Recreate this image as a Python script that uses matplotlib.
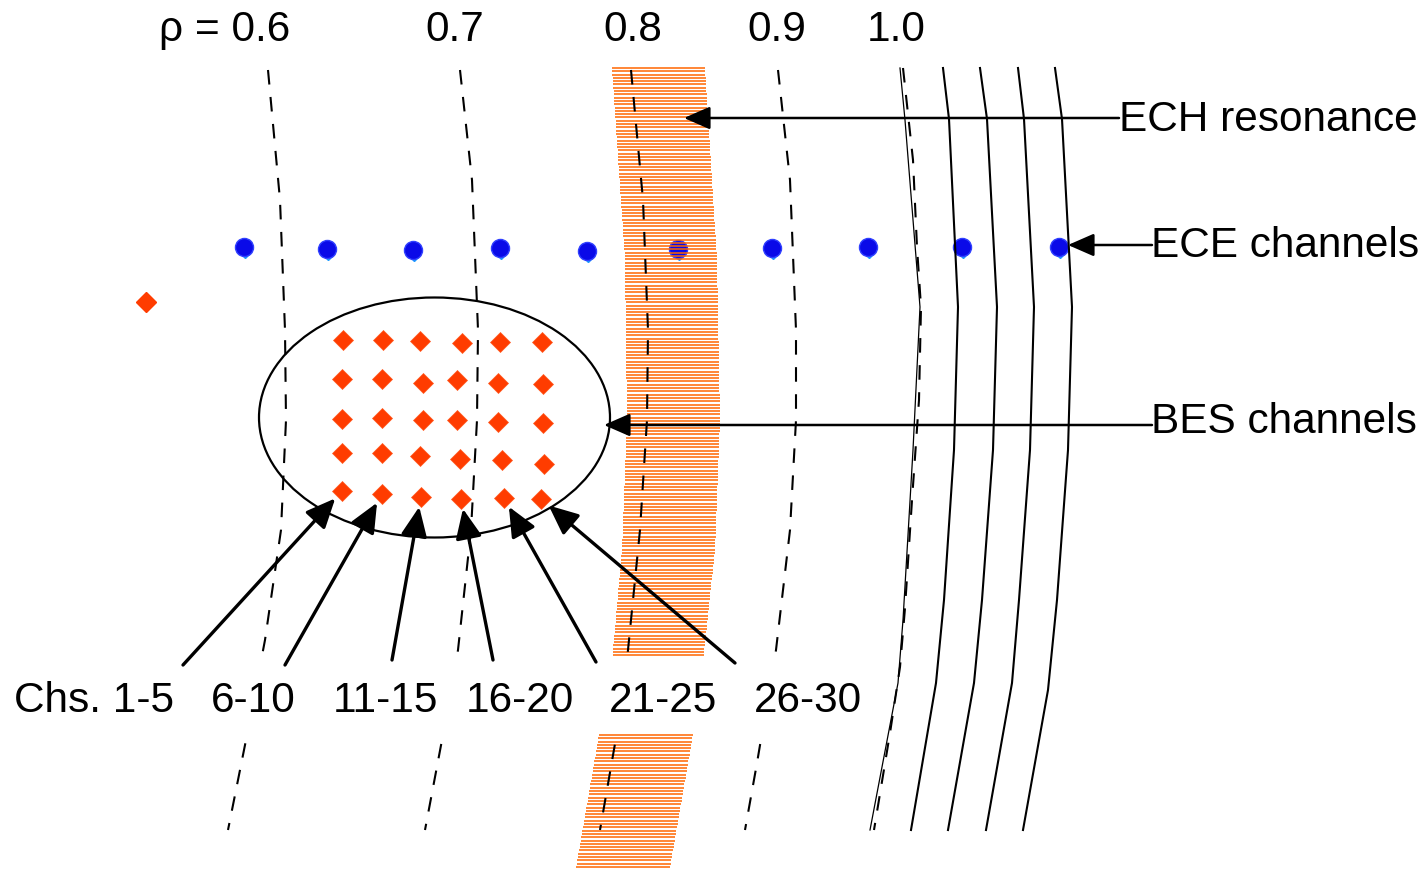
import numpy as np
import matplotlib
matplotlib.use("Agg")
import matplotlib.pyplot as plt
from matplotlib.patches import Ellipse, Rectangle

plt.rcParams['font.family'] = ['Liberation Sans', 'DejaVu Sans']

# flux surfaces (dashed), points along each curve in drawing units (x, y down)
rho_labels = ['ρ = 0.6', '0.7', '0.8', '0.9', '1.0']
rho_label_x = [225, 455, 633, 777, 896]
rho06 = [(268, 70), (280, 200), (285, 330), (286, 420), (281, 530), (265, 640), (246, 740), (228, 830)]
rho07 = [(460, 70), (472, 180), (478, 330), (477, 420), (471, 530), (458, 650), (442, 740), (425, 830)]
rho08 = [(631, 70), (643, 200), (648, 330), (647, 420), (640, 530), (628, 650), (616, 738), (600, 830)]
rho09 = [(778, 70), (790, 180), (796, 330), (796, 420), (790, 530), (776, 650), (757, 763), (745, 830)]
rho10 = [(903, 68), (913, 160), (917, 247), (921, 307), (919, 400), (912, 500), (905, 608),
         (900, 667), (890, 733), (874, 830)]

# outer surfaces (solid)
outer1 = [(900, 68), (905, 120), (920, 307), (913, 450), (903, 620), (898, 683), (870, 830)]
outer2 = [(943, 68), (949, 119), (958, 307), (954, 450), (944, 600), (936, 683), (911, 830)]
outer3 = [(980, 68), (987, 119), (997, 307), (993, 450), (982, 600), (974, 683), (948, 830)]
outer4 = [(1018, 68), (1024, 119), (1034, 307), (1030, 450), (1019, 600), (1012, 683), (986, 830)]
outer5 = [(1055, 68), (1062, 119), (1072, 307), (1068, 450), (1057, 600), (1048, 690), (1023, 830)]

# ECH resonance band edges
ech_upper_y = [68, 260, 420, 550, 662]
ech_upper_left = [612, 625, 627, 622, 612]
ech_upper_right = [705, 717, 720, 715, 703]
ech_lower_y = [735, 868]
ech_lower_left = [599, 576]
ech_lower_right = [693, 670]

# ECE channels
ece_x = [244, 327, 413, 500, 587, 678, 772, 868, 962, 1059]
ece_y = [247, 249, 250, 248, 251, 249, 248, 247, 247, 247]

# BES channels, 6 columns x 5 rows
bes_x = [[343, 383, 420, 462, 500, 542],
         [342, 382, 423, 457, 498, 543],
         [342, 382, 423, 457, 498, 543],
         [342, 382, 420, 460, 502, 544],
         [342, 382, 421, 461, 504, 541]]
bes_y = [[340, 340, 341, 343, 342, 342],
         [379, 379, 383, 380, 383, 384],
         [419, 418, 420, 420, 422, 423],
         [453, 453, 456, 459, 460, 464],
         [491, 494, 497, 499, 498, 499]]
bes_extra = (146, 302)

chan_labels = ['Chs. 1-5', '6-10', '11-15', '16-20', '21-25', '26-30']
chan_label_x = [94, 253, 386, 520, 663, 808]
chan_arrow_start = [(183, 665), (285, 665), (392, 660), (493, 660), (596, 662), (735, 663)]

fig = plt.figure(figsize=(14.25, 8.74), dpi=100)
ax = fig.add_axes([0, 0, 1, 1])
ax.set_xlim(0, 1425)
ax.set_ylim(874, 0)
ax.axis('off')

# hatched ECH band
orange = '#ff6600'
for ys, lefts, rights in [(ech_upper_y, ech_upper_left, ech_upper_right),
                          (ech_lower_y, ech_lower_left, ech_lower_right)]:
    yy = np.arange(ys[0], ys[-1], 3.3)
    ax.hlines(yy, np.interp(yy, ys, lefts), np.interp(yy, ys, rights),
              color=orange, lw=1.1, zorder=3)

for curve in [rho06, rho07, rho08, rho09, rho10]:
    c = np.array(curve)
    ax.plot(c[:, 0], c[:, 1], color='black', lw=1.5, ls=(0, (7, 6)), zorder=4)

for i, curve in enumerate([outer1, outer2, outer3, outer4, outer5]):
    c = np.array(curve)
    ax.plot(c[:, 0], c[:, 1], color='black', lw=0.9 if i == 0 else 1.5, zorder=4)

# white strip behind the channel labels
ax.add_patch(Rectangle((0, 658), 868, 76, fc='white', ec='none', zorder=4.5))

ax.plot(np.array(ece_x) + 1, np.array(ece_y) + 7, 'D', ms=4, color='#1e9bff', zorder=1.9)
ax.plot(ece_x, ece_y, 'o', ms=13, mfc='#0a0ae8', mec='#3040ff', mew=1, zorder=2)

bx = np.array(bes_x).ravel()
by = np.array(bes_y).ravel()
ax.plot(bx, by, 'D', ms=10, color='#ff3c00', mec='#ff5a20', mew=0.5, zorder=5)
ax.plot(*bes_extra, 'D', ms=10, color='#ff3c00', zorder=5)

ax.add_patch(Ellipse((434.5, 417.5), 351, 240, fill=False, ec='black', lw=1.6, zorder=4))

arrow = dict(arrowstyle='-|>,head_length=0.8,head_width=0.35', color='black',
             lw=1.8, shrinkA=0, shrinkB=0, mutation_scale=20)

# right-hand labels with horizontal arrows
ax.annotate('', xy=(684, 118), xytext=(1119, 118), arrowprops=arrow, zorder=6)
ax.annotate('', xy=(1068, 245), xytext=(1152, 245), arrowprops=arrow, zorder=6)
ax.annotate('', xy=(604, 425), xytext=(1152, 425), arrowprops=arrow, zorder=6)
ax.text(1119, 131, 'ECH resonance', fontsize=30.5, va='baseline', ha='left')
ax.text(1151, 257, 'ECE channels', fontsize=30.5, va='baseline', ha='left')
ax.text(1151, 433, 'BES channels', fontsize=30.5, va='baseline', ha='left')

# channel group arrows to the bottom row
arrow2 = dict(arrow, lw=2.4, arrowstyle='-|>,head_length=0.9,head_width=0.4')
for start, tx, ty in zip(chan_arrow_start, bes_x[4], bes_y[4]):
    dx, dy = start[0] - tx, start[1] - ty
    d = np.hypot(dx, dy)
    tip = (tx + dx / d * 10, ty + dy / d * 10)
    ax.annotate('', xy=tip, xytext=start, arrowprops=arrow2, zorder=6)

for lab, x in zip(chan_labels, chan_label_x):
    ax.text(x, 712, lab, fontsize=30.5, ha='center', va='baseline', zorder=7)

for lab, x in zip(rho_labels, rho_label_x):
    ax.text(x, 41, lab, fontsize=30.5, ha='center', va='baseline')

fig.savefig('out.png', dpi=100)
